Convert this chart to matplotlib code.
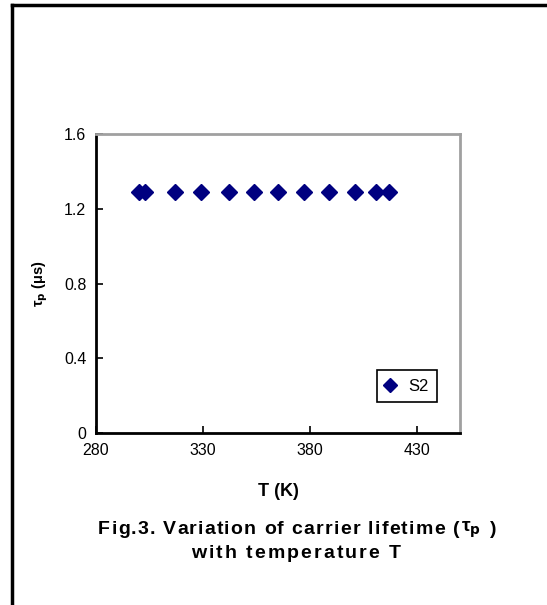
import matplotlib
matplotlib.use("Agg")
import matplotlib.pyplot as plt
from matplotlib.lines import Line2D

plt.rcParams['font.family'] = ['Liberation Sans', 'DejaVu Sans']

temperature = [300, 303, 317, 329, 342, 354, 365, 377, 389, 401, 411, 417]
lifetime = [1.29, 1.29, 1.29, 1.29, 1.29, 1.29, 1.29, 1.29, 1.29, 1.29, 1.29, 1.29]
series_name = "S2"
x_ticks = [280, 330, 380, 430]
y_ticks = [0, 0.4, 0.8, 1.2, 1.6]
y_tick_labels = ["0", "0.4", "0.8", "1.2", "1.6"]
caption_line1 = list("Fig.3. Variation of carrier lifetime (") + [r"τ$_\mathbf{p}$", " ", ")"]
caption_line2 = list("with temperature T")

W, H = 547, 605
fig = plt.figure(figsize=(W / 100, H / 100), dpi=100)
fig.patch.set_facecolor('white')

left, right, top, bottom = 96, 460, 134, 433
ax = fig.add_axes([left / W, 1 - bottom / H, (right - left) / W, (bottom - top) / H])

ax.plot(temperature, lifetime, linestyle='none', marker='D', markersize=8,
        color='#000080', markeredgecolor='#000080', label=series_name)

ax.set_xlim(280, 450)
ax.set_ylim(0, 1.6)
ax.set_xticks(x_ticks)
ax.set_yticks(y_ticks)
ax.set_yticklabels(y_tick_labels)
ax.tick_params(direction='in', length=5, width=1.2, labelsize=11.5, pad=7, color='black')

for s in ['left', 'bottom']:
    ax.spines[s].set_linewidth(2)
    ax.spines[s].set_color('black')
for s in ['top', 'right']:
    ax.spines[s].set_linewidth(2)
    ax.spines[s].set_color('#a0a0a0')

leg = ax.legend(loc='lower right', bbox_to_anchor=((437 - left) / (right - left), (bottom - 402) / (bottom - top)),
                frameon=True, fancybox=False, framealpha=1, edgecolor='black',
                fontsize=12, handlelength=0.6, handletextpad=0.8, borderpad=0.5,
                borderaxespad=0, markerscale=0.85)
leg.get_frame().set_linewidth(1.2)

ax.set_xlabel("T (K)", fontsize=13, fontweight='bold', labelpad=18)

fig.text(40 / W, 1 - 284 / H, r"τ$_\mathbf{p}$ (μs)", rotation=90, fontsize=10.5,
         fontweight='bold', ha='center', va='center')

renderer = fig.canvas.get_renderer()


def text_width(s, **kw):
    if not s:
        return 0.0
    t = fig.text(0, 0, s + "|", **kw)
    w1 = t.get_window_extent(renderer).width
    t.remove()
    t = fig.text(0, 0, "|", **kw)
    w2 = t.get_window_extent(renderer).width
    t.remove()
    return w1 - w2


def spaced_text(tokens, center_px, y_px, target_w, **kw):
    full = "".join(tokens)
    base_w = text_width(full, **kw)
    n = len(tokens)
    sp = (target_w - base_w) / max(n - 1, 1)
    start = center_px - target_w / 2
    for i, tok in enumerate(tokens):
        if tok == " ":
            continue
        off = text_width("".join(tokens[:i]), **kw) + i * sp
        fig.text((start + off) / W, 1 - y_px / H, tok, ha='left', va='center', **kw)


cap_kw = dict(fontsize=14, fontweight='bold')
spaced_text(caption_line1, 297, 530, 398, **cap_kw)
spaced_text(caption_line2, 296, 554, 210, **cap_kw)

fig.add_artist(Line2D([12 / W, 12 / W], [1 - 603 / H, 1 - 4.5 / H], color='black', lw=2.5,
                      transform=fig.transFigure))
fig.add_artist(Line2D([12 / W, 1.0], [1 - 4.5 / H, 1 - 4.5 / H], color='black', lw=2.5,
                      transform=fig.transFigure))

fig.savefig("out.png", dpi=100)
